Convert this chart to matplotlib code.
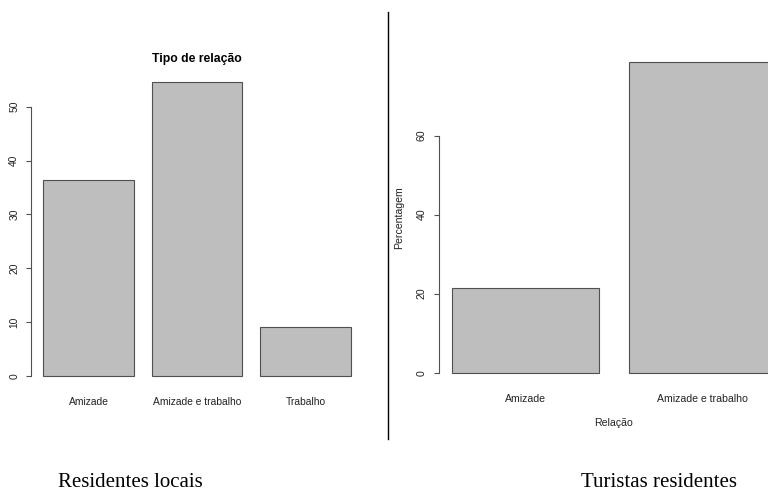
import matplotlib.pyplot as plt

# left: residentes locais
cat_loc = ["Amizade", "Amizade e trabalho", "Trabalho"]
pct_loc = [36.36, 54.55, 9.09]
ticks_loc = [0, 10, 20, 30, 40, 50]

# right: turistas residentes
cat_tur = ["Amizade", "Amizade e trabalho"]
pct_tur = [21.43, 78.57]
ticks_tur = [0, 20, 40, 60]

W, H = 768, 493
fig = plt.figure(figsize=(W / 100, H / 100), dpi=100)
plt.rcParams['font.family'] = ['Liberation Sans', 'DejaVu Sans']

def px_axes(x0, x1, ytop, ybot):
    return fig.add_axes([x0 / W, 1 - ybot / H, (x1 - x0) / W, (ybot - ytop) / H])

def r_barplot(ax, cats, vals, ticks, fs):
    n = len(vals)
    centers = [0.7 + 1.2 * i for i in range(n)]
    ax.bar(centers, vals, width=1.0, color="#bebebe", edgecolor="#505050", linewidth=0.8)
    lo, hi = 0.2, 0.2 + 1.2 * n - 0.2
    pad = 0.04 * (hi - lo)
    ax.set_xlim(lo - pad, hi + pad)
    top = max(vals)
    ax.set_ylim(-0.04 * top, 1.04 * top)
    for s in ["top", "right", "bottom"]:
        ax.spines[s].set_visible(False)
    ax.spines["left"].set_bounds(ticks[0], ticks[-1])
    ax.spines["left"].set_color("#505050")
    ax.spines["left"].set_linewidth(0.8)
    ax.set_yticks(ticks)
    ax.set_yticklabels([str(t) for t in ticks], rotation=90, va="center", fontsize=fs,
                       color="#222222")
    ax.tick_params(axis="y", length=3.5, width=0.8, color="#505050", pad=5)
    ax.set_xticks(centers)
    ax.set_xticklabels(cats, fontsize=fs, color="#222222")
    ax.tick_params(axis="x", length=0, pad=6.5)

axl = px_axes(31, 363.3, 70.4, 387.8)
r_barplot(axl, cat_loc, pct_loc, ticks_loc, 7.4)
axl.set_title("Tipo de relação", fontsize=8.8, fontweight="bold", pad=6)

axr = px_axes(438.7, 789, 49.9, 385.1)
r_barplot(axr, cat_tur, pct_tur, ticks_tur, 7.6)
axr.set_ylabel("Percentagem", fontsize=7.6, labelpad=9, color="#222222")
axr.set_xlabel("Relação", fontsize=7.6, labelpad=10, color="#222222")

# divider line
fig.add_artist(plt.Line2D([388.3 / W, 388.3 / W], [1 - 12 / H, 1 - 439 / H], color="black", lw=1))

fig.text(130 / W, 1 - 487 / H, "Residentes locais", ha="center", va="baseline",
         fontsize=15, family="Liberation Serif")
fig.text(659 / W, 1 - 487 / H, "Turistas residentes", ha="center", va="baseline",
         fontsize=15, family="Liberation Serif")

fig.savefig("out.png", dpi=100)
